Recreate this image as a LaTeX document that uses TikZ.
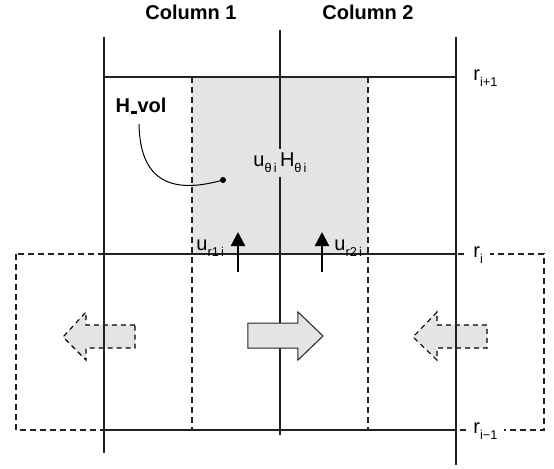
\documentclass[tikz,border=0pt]{standalone}
\usepackage{fontspec}
\setmainfont{Liberation Sans}
\usetikzlibrary{arrows.meta}
\definecolor{cellgray}{HTML}{E4E4E4}
\definecolor{ink}{HTML}{222222}
\newcommand\mysub[1]{\raisebox{-0.3em}{\fontsize{6.4}{7}\selectfont #1}}
\begin{document}
\begin{tikzpicture}[x=0.5pt,y=-0.5pt,
  solidline/.style={line width=0.6pt, draw=ink},
  dashline/.style={line width=0.55pt, draw=ink, dash pattern=on 3pt off 2pt},
  lbl/.style={font=\fontsize{10}{12}\selectfont, inner sep=0pt},
  head/.style={font=\bfseries\fontsize{10}{12}\selectfont, inner sep=0pt},
  rlbl/.style={font=\fontsize{10}{12}\selectfont, anchor=west, fill=white, inner xsep=3.5pt, inner ysep=1pt},
  flux/.style={line width=1.1pt, draw=black, -{Triangle[width=7pt,length=7pt]}},
  bigarrow/.style={fill=cellgray, draw=ink, line width=0.5pt},
  bigdash/.style={fill=cellgray, draw=black, line width=0.55pt, dash pattern=on 2.5pt off 2pt}
]
\useasboundingbox (0,0) rectangle (554,468);

% shaded cell
\fill[cellgray] (192,77) rectangle (368,254);

% dashed outer box and dashed column boundaries
\draw[dashline] (16,254) rectangle (544,430);
\draw[dashline] (192,77) -- (192,430);
\draw[dashline] (368,77) -- (368,430);

% side (dashed) arrows
\draw[bigdash] (135,325) -- (86,325) -- (86,312) -- (63,337) -- (86,360) -- (86,348) -- (135,348) -- cycle;
\draw[bigdash] (487,325) -- (437,325) -- (437,312) -- (413,337) -- (437,360) -- (437,348) -- (487,348) -- cycle;

% solid grid
\draw[solidline] (104,37) -- (104,453);
\draw[solidline] (280,30) -- (280,435);
\draw[solidline] (456,37) -- (456,465);
\draw[solidline] (104,77) -- (456,77);
\draw[solidline] (104,254) -- (456,254);
\draw[solidline] (104,430) -- (456,430);

% central arrow
\draw[bigarrow] (248,323) -- (298,323) -- (298,312) -- (323,336) -- (298,360) -- (298,348) -- (248,348) -- cycle;

% column headers
\node[head] (c1) at (191,12) {Column 1};
\node[head] (c2) at (368,12) {Column 2};

% radius labels
\node[rlbl] (ra) at (466,78) {r\mysub{i+1}};
\node[rlbl] (rb) at (466,255) {r\mysub{i}};
\node[rlbl] (rc) at (466,431) {r\mysub{i−1}};

% cell centre label
\node[lbl, fill=cellgray, inner xsep=1pt, inner ysep=2pt] (uh) at (280,163) {u\mysub{θ\,i}\,H\mysub{θ\,i}};

% H_vol and its leader
\node[head] (hv) at (141,106) {H\kern0.3pt\rule[-0.4pt]{3.2pt}{1.1pt}\kern0.3pt vol};
\coordinate (dot) at (223,180);
\coordinate (hvs) at (139,124);
\draw[line width=0.5pt] (hvs) .. controls (140,180) and (170,195) .. (dot);
\fill (dot) circle (3);

% radial fluxes
\coordinate (a1) at (238,272);
\coordinate (b1) at (238,232);
\coordinate (a2) at (322,272);
\coordinate (b2) at (322,232);
\draw[flux] (a1) -- (b1);
\draw[flux] (a2) -- (b2);
\node[lbl, anchor=base west] (ur1) at (196,250) {u\mysub{r1\,i}};
\node[lbl, anchor=base west] (ur2) at (334,250) {u\mysub{r2\,i}};
\end{tikzpicture}
\end{document}
